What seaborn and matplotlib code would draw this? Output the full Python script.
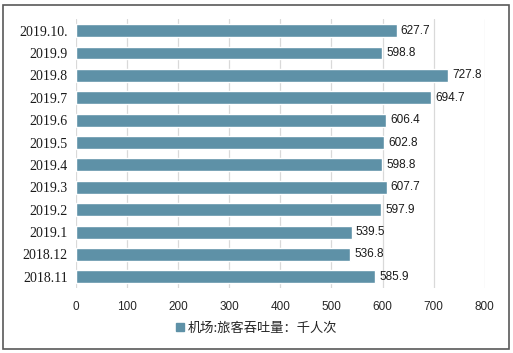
import matplotlib
matplotlib.use("Agg")
import matplotlib.pyplot as plt
import seaborn as sns
import pandas as pd
from matplotlib.patches import Rectangle

months = ["2019.10.", "2019.9", "2019.8", "2019.7", "2019.6", "2019.5",
          "2019.4", "2019.3", "2019.2", "2019.1", "2018.12", "2018.11"]
passengers = [627.7, 598.8, 727.8, 694.7, 606.4, 602.8,
              598.8, 607.7, 597.9, 539.5, 536.8, 585.9]
x_ticks = [0, 100, 200, 300, 400, 500, 600, 700, 800]
series_name = "机场:旅客吞吐量：千人次"

bar_color = "#5E91A7"

sns.set_theme(style="white")
plt.rcParams['font.family'] = ['Noto Sans CJK SC', 'DejaVu Sans']

df = pd.DataFrame({"month": months, "value": passengers})

fig = plt.figure(figsize=(5.13, 3.53), dpi=100)
ax = fig.add_axes([0.148, 0.184, 0.797, 0.761])

sns.barplot(data=df, x="value", y="month", orient="h", color=bar_color,
            width=0.58, saturation=1, ax=ax, zorder=3)

ax.set_xlim(0, 800)
ax.set_xticks(x_ticks)
ax.grid(axis="x", color="#d9d9d9", linewidth=0.9, zorder=0)
ax.set_xlabel("")
ax.set_ylabel("")
for s in ax.spines.values():
    s.set_visible(False)
ax.tick_params(axis="both", length=0)
ax.tick_params(axis="x", pad=9)
ax.tick_params(axis="y", pad=6)

for lab in ax.get_xticklabels():
    lab.set_fontfamily("Liberation Sans")
    lab.set_fontsize(8.5)
    lab.set_color("#262626")
for lab in ax.get_yticklabels():
    lab.set_fontfamily("Liberation Serif")
    lab.set_fontsize(10)
    lab.set_color("#1a1a1a")

for i, v in enumerate(passengers):
    ax.text(v + 8, i, f"{v:.1f}", va="center", ha="left",
            fontsize=8.5, family="Liberation Sans", color="#1a1a1a")

# legend
handle = Rectangle((0, 0), 1, 1, color=bar_color)
fig.legend([handle], [series_name], loc="center", bbox_to_anchor=(0.5, 0.07),
           frameon=False, fontsize=9.5, handlelength=0.6, handleheight=0.6,
           handletextpad=0.3)

# outer frame
fig.patches.append(Rectangle((0.006, 0.012), 0.986, 0.975, transform=fig.transFigure,
                             fill=False, edgecolor="#595959", linewidth=1.2))

fig.savefig("out.png", dpi=100)
